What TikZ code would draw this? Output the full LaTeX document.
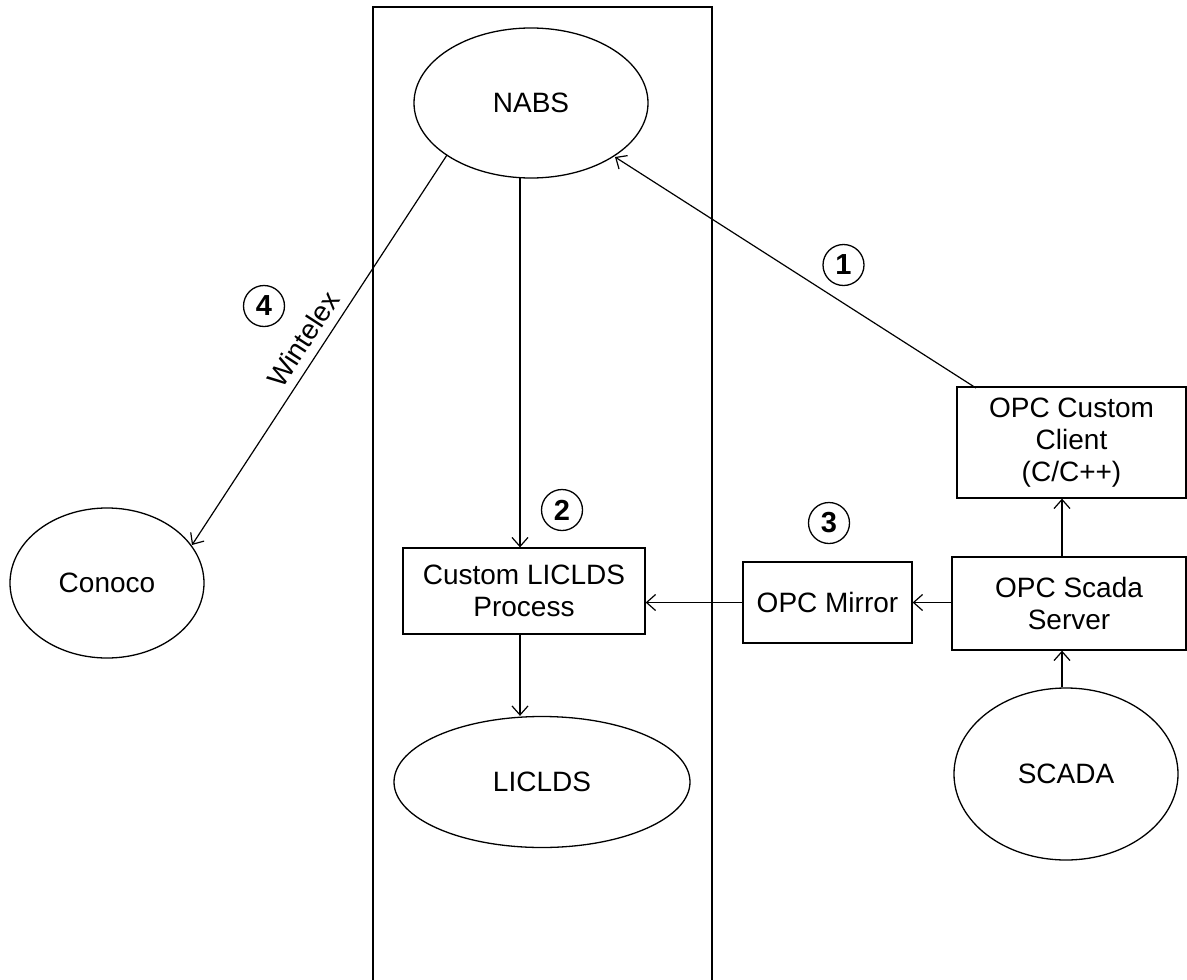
\documentclass[tikz,border=0pt]{standalone}
\usepackage{fontspec}
\setmainfont{Liberation Sans}
\usetikzlibrary{shapes.geometric,arrows.meta}
\begin{document}
\begin{tikzpicture}[x=1pt,y=-1pt,
  every node/.style={font=\fontsize{28}{32}\selectfont, align=center},
  ell/.style={draw, ellipse, line width=1.3pt, inner sep=0pt},
  box/.style={draw, rectangle, line width=1.3pt, inner sep=0pt},
  conn/.style={line width=1.2pt, -{Straight Barb[length=9pt,width=16pt]}},
  num/.style={draw, circle, line width=1.3pt, minimum size=41pt, inner sep=0pt, font=\fontsize{29}{32}\selectfont\bfseries}
]
\useasboundingbox (0,0) rectangle (1187,980);
\draw[line width=1.3pt] (373,980) -- (373,7) -- (712,7) -- (712,980);
\node[ell, minimum width=234pt, minimum height=150pt] (nabs) at (531,103) {NABS};
\node[box, minimum width=242pt, minimum height=86pt] (proc) at (524,591) {Custom LICLDS\\Process};
\node[ell, minimum width=296pt, minimum height=131pt] (liclds) at (542,782) {LICLDS};
\node[box, minimum width=169pt, minimum height=81pt] (mirror) at (827.5,602.5) {OPC Mirror};
\node[box, minimum width=234pt, minimum height=93pt] (server) at (1069,603.5) {OPC Scada\\Server};
\node[box, minimum width=229pt, minimum height=111pt] (client) at (1071.5,442.5) {OPC Custom\\Client\\(C/C++)};
\node[ell, minimum width=224pt, minimum height=172pt] (scada) at (1066,774) {SCADA};
\node[ell, minimum width=194pt, minimum height=150pt] (conoco) at (107,583) {Conoco};
\coordinate (nabsb) at (520,178);
\coordinate (nabsr) at (615,157);
\coordinate (nabsl) at (447,155);
\coordinate (clienttl) at (976,388);
\coordinate (conocot) at (192,545);
\draw[conn] (nabsb) -- (proc.north -| nabsb);
\draw[conn] (proc.south -| nabsb) -- (liclds.north -| nabsb);
\draw[conn] (mirror.west) -- (proc.east |- mirror.west);
\draw[conn] (server.west |- mirror.east) -- (mirror.east);
\draw[conn] (server.north -| 1062,0) -- (client.south -| 1062,0);
\draw[conn] (scada.north -| 1062,0) -- (server.south -| 1062,0);
\draw[conn] (clienttl) -- (nabsr);
\draw[conn] (nabsl) -- (conocot);
\node[rotate=57, inner sep=0pt] (wint) at (303,339) {Wintelex};
\node[num] (n1) at (843.5,265) {1};
\node[num] (n2) at (562,510) {2};
\node[num] (n3) at (829,523) {3};
\node[num] (n4) at (264,306) {4};
\end{tikzpicture}
\end{document}
